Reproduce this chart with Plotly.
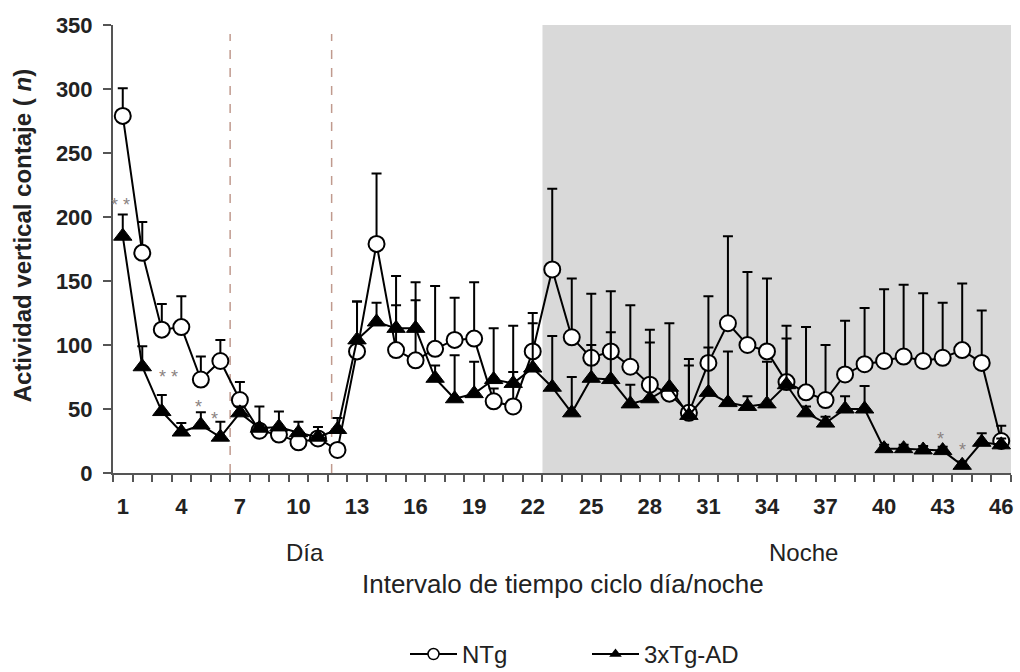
import plotly.graph_objects as go

intervals = list(range(1, 47))

ntg_mean = [279, 172, 112, 114, 73, 87.5, 57, 33, 30, 24, 27, 18,
            95, 179, 96, 88, 97, 104, 105, 56, 52, 95, 159, 106,
            90, 95, 83, 69, 62, 47, 86, 117, 100, 95, 71, 63,
            57, 77, 85, 87.5, 91, 87.5, 90, 96, 86, 25]
ntg_err = [21.5, 24, 20, 24, 18, 16.5, 14, 5, 4, 5, 3, 3,
           39, 55, 58, 61, 49, 33, 44, 10, 27, 30, 63, 46,
           50, 47, 48, 43, 5, 42, 52, 68, 57, 57, 44, 51,
           43, 42, 44, 56, 56, 53, 43, 52, 41, 12]

tg_mean = [185, 83, 48, 32, 37.5, 28, 47, 35, 36, 31.5, 28, 34,
           104, 118, 113, 113, 74, 58, 62, 73, 70, 82, 67, 47,
           74, 73, 54, 58, 67, 45, 63, 55, 52, 54, 69, 47,
           39, 50, 50, 19, 19, 18, 17.5, 6, 24, 22]
tg_err = [17, 16, 13, 7, 10, 12, 5, 17, 12, 8.5, 8, 9,
          30, 15, 18, 22, 10, 34, 25, 40, 45, 35, 40, 28,
          26, 37, 15, 44, 50, 39, 35, 40, 8, 33, 36, 5,
          5, 10, 18, 3, 3, 3, 3, 3, 7, 5]

y_ticks = [0, 50, 100, 150, 200, 250, 300, 350]
x_tick_labels = [1, 4, 7, 10, 13, 16, 19, 22, 25, 28, 31, 34, 37, 40, 43, 46]

# significance marks: (x, y, text)
sig_x = [0.87, 3.33, 4.9, 5.7, 42.9, 44.0]
sig_y = [214, 80, 56, 47, 31.5, 23]
sig_text = ["* *", "* *", "*", "*", "*", "*"]

FONT = "Liberation Sans, Arial, sans-serif"
TXT = "#222222"
AX = "#555555"

fig = go.Figure()

fig.add_trace(go.Scatter(
    x=intervals, y=ntg_mean, mode="lines+markers", name="NTg", showlegend=False,
    line=dict(color="black", width=2),
    marker=dict(symbol="circle", size=16, color="white", line=dict(color="black", width=2)),
    error_y=dict(type="data", symmetric=False, array=ntg_err,
                 arrayminus=[0] * len(ntg_err), color="black", thickness=2, width=5),
))
fig.add_trace(go.Scatter(
    x=intervals, y=tg_mean, mode="lines+markers", name="3xTg-AD", showlegend=False,
    line=dict(color="black", width=2),
    marker=dict(symbol="triangle-up", size=16, color="black", line=dict(color="black", width=1)),
    error_y=dict(type="data", symmetric=False, array=tg_err,
                 arrayminus=[0] * len(tg_err), color="black", thickness=2, width=5),
))

# legend-only traces
fig.add_trace(go.Scatter(
    x=[None], y=[None], mode="lines+markers", name="NTg",
    line=dict(color="black", width=2),
    marker=dict(symbol="circle", size=11, color="white", line=dict(color="black", width=1.5)),
))
fig.add_trace(go.Scatter(
    x=[None], y=[None], mode="lines+markers", name="3xTg-AD",
    line=dict(color="black", width=2),
    marker=dict(symbol="triangle-up", size=11, color="black"),
))

for sx, sy, st in zip(sig_x, sig_y, sig_text):
    fig.add_annotation(x=sx, y=sy, text=st, showarrow=False, xref="x", yref="y",
                       font=dict(family=FONT, size=18, color="#8a8280"), yshift=-6)

# night shading
fig.add_shape(type="rect", xref="x", yref="y", x0=22.5, x1=46.5, y0=0, y1=350,
              fillcolor="#d9d9d9", line=dict(width=0), layer="below")
# dashed separators
for dx in [6.5, 11.7]:
    fig.add_shape(type="line", xref="x", yref="y", x0=dx, x1=dx, y0=0, y1=343,
                  line=dict(color="#c09a8e", width=1.5, dash="dash"), layer="below")

fig.add_annotation(x=-0.101, y=(473 - 236) / 448, xref="paper", yref="paper",
                   xanchor="center", yanchor="middle",
                   text="<b>Actividad vertical contaje ( <i>n</i>)</b>", textangle=-90,
                   showarrow=False, font=dict(family=FONT, size=24, color=TXT))
fig.add_annotation(x=(305 - 113) / 898, y=(473 - 552) / 448, xref="paper", yref="paper",
                   xanchor="center", yanchor="middle",
                   text="Día", showarrow=False, font=dict(family=FONT, size=24, color=TXT))
fig.add_annotation(x=(803 - 113) / 898, y=(473 - 552) / 448, xref="paper", yref="paper",
                   xanchor="center", yanchor="middle",
                   text="Noche", showarrow=False, font=dict(family=FONT, size=24, color=TXT))
fig.add_annotation(x=(563 - 113) / 898, y=(473 - 584) / 448, xref="paper", yref="paper",
                   xanchor="center", yanchor="middle",
                   text="Intervalo de tiempo ciclo día/noche", showarrow=False,
                   font=dict(family=FONT, size=26, color=TXT))

fig.update_layout(
    width=1020, height=672,
    margin=dict(l=113, r=9, t=25, b=199, autoexpand=False),
    paper_bgcolor="white", plot_bgcolor="white",
    font=dict(family=FONT, color=TXT),
    legend=dict(orientation="h", x=(413 - 113 - 8) / 898, xanchor="left", y=-0.405,
                yanchor="middle",
                font=dict(family=FONT, size=24, color=TXT), entrywidth=120,
                entrywidthmode="pixels", itemwidth=47),
    xaxis=dict(range=[0.5, 46.5], tickmode="array", tickvals=x_tick_labels,
               ticktext=[str(v) for v in x_tick_labels], ticks="",
               showline=True, linecolor=AX, linewidth=2, showgrid=False, zeroline=False,
               tickfont=dict(family=FONT, size=22, color=TXT, weight="bold"),
               ticklabelstandoff=13, automargin=False,
               minor=dict(tickmode="linear", tick0=0.5, dtick=1, ticks="outside",
                          ticklen=7, tickcolor=AX, tickwidth=2, showgrid=False)),
    yaxis=dict(range=[0, 350], tickmode="array", tickvals=y_ticks, ticks="outside",
               ticklen=8, tickcolor=AX, tickwidth=2, showline=True, linecolor=AX,
               linewidth=2, showgrid=False, zeroline=False, automargin=False,
               tickfont=dict(family=FONT, size=22, color=TXT, weight="bold"),
               ticklabelstandoff=6),
)

fig.write_html("out.html")
